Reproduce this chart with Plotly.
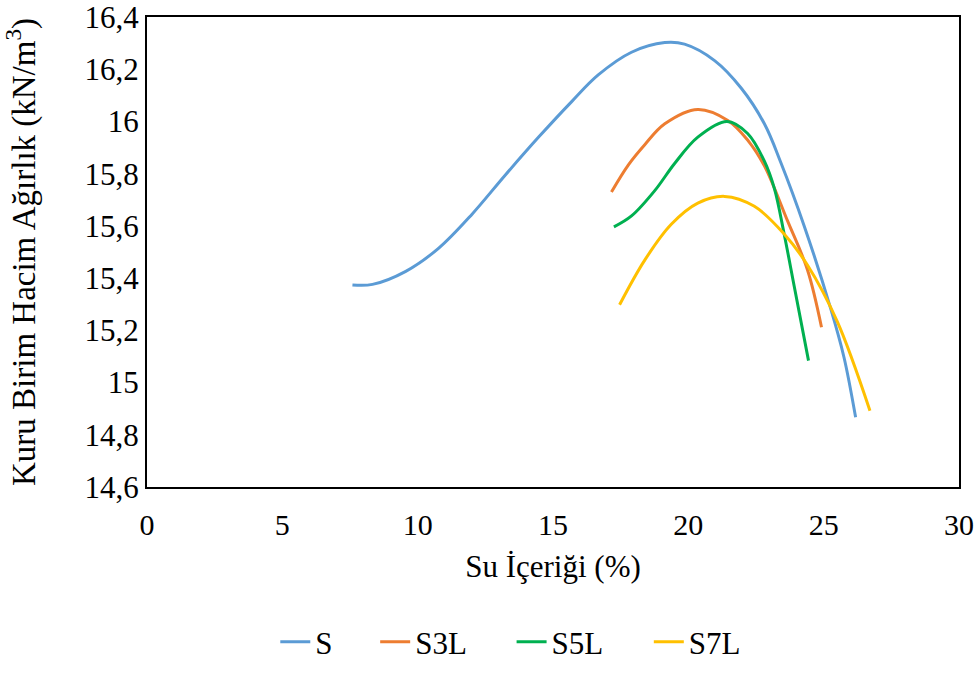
import plotly.graph_objects as go

# Blue: S
s_x = [7.59, 8.33, 9.56, 10.78, 12.01, 13.24, 14.47, 15.69, 16.67, 17.90, 19.13, 19.86, 20.97, 21.95, 22.81, 23.42, 24.28, 25.26, 25.75, 26.18]
s_y = [15.374, 15.376, 15.426, 15.515, 15.645, 15.795, 15.940, 16.076, 16.178, 16.265, 16.302, 16.296, 16.233, 16.128, 15.991, 15.842, 15.600, 15.283, 15.097, 14.867]

# Orange: S3L
s3_x = [17.16, 17.78, 18.39, 19.13, 20.35, 21.46, 22.19, 22.81, 23.67, 24.40, 24.92]
s3_y = [15.730, 15.833, 15.911, 15.991, 16.046, 16.004, 15.929, 15.830, 15.618, 15.432, 15.212]

# Green: S5L
s5_x = [17.25, 17.90, 18.76, 19.50, 20.35, 21.43, 22.19, 22.81, 23.18, 23.54, 23.91, 24.44]
s5_y = [15.596, 15.638, 15.735, 15.840, 15.940, 16.000, 15.954, 15.848, 15.743, 15.569, 15.370, 15.084]

# Yellow: S7L
s7_x = [17.46, 18.39, 19.37, 20.35, 21.34, 22.44, 23.54, 24.40, 25.50, 26.71]
s7_y = [15.298, 15.469, 15.606, 15.687, 15.713, 15.675, 15.569, 15.450, 15.234, 14.892]

names = ["S", "S3L", "S5L", "S7L"]
colors = ["#5B9BD5", "#ED7D31", "#00B050", "#FFC000"]
series = [(s_x, s_y), (s3_x, s3_y), (s5_x, s5_y), (s7_x, s7_y)]
legend_ids = ["legend", "legend2", "legend3", "legend4"]
legend_x = [0.158, 0.281, 0.449, 0.618]

x_ticks = [0, 5, 10, 15, 20, 25, 30]
y_ticks = [14.6, 14.8, 15.0, 15.2, 15.4, 15.6, 15.8, 16.0, 16.2, 16.4]

fig = go.Figure()
for (xs, ys), n, c, lg in zip(series, names, colors, legend_ids):
    fig.add_trace(go.Scatter(x=xs, y=ys, name=n, mode="lines", legend=lg,
                             line=dict(color=c, width=3, shape="spline", smoothing=1.0)))

font = "Liberation Serif"
layout_legends = {}
for lg, lx in zip(legend_ids, legend_x):
    layout_legends[lg] = dict(orientation="h", x=lx, xanchor="left", y=-0.33, yanchor="middle",
                              font=dict(family=font, size=31), bgcolor="rgba(0,0,0,0)")

fig.update_layout(
    width=974, height=681,
    margin=dict(l=147, r=15, t=17, b=180),
    paper_bgcolor="white", plot_bgcolor="white",
    font=dict(family=font, size=31, color="black"),
    separators=", ",
    showlegend=True,
    **layout_legends,
)
fig.update_xaxes(range=[0, 30], tickvals=x_ticks, showgrid=False, zeroline=False,
                 showline=True, linecolor="black", linewidth=2, mirror=True,
                 ticks="outside", ticklen=10, tickcolor="rgba(0,0,0,0)",
                 ticklabeloverflow="allow", automargin=False,
                 tickfont=dict(family=font, size=30),
                 title=dict(text="Su İçeriği (%)", font=dict(family=font, size=31), standoff=15))
fig.update_yaxes(range=[14.6, 16.4], tickvals=y_ticks, showgrid=False, zeroline=False,
                 showline=True, linecolor="black", linewidth=2, mirror=True,
                 ticks="", ticklabeloverflow="allow", automargin=False,
                 tickfont=dict(family=font, size=31),
                 title=dict(text="Kuru Birim Hacim Ağırlık (kN/m<sup>3</sup>)", font=dict(family=font, size=33), standoff=40))

fig.write_html("out.html",
               config={"displayModeBar": False},
               post_script="document.body.style.margin='0';document.body.style.overflow='hidden';")
